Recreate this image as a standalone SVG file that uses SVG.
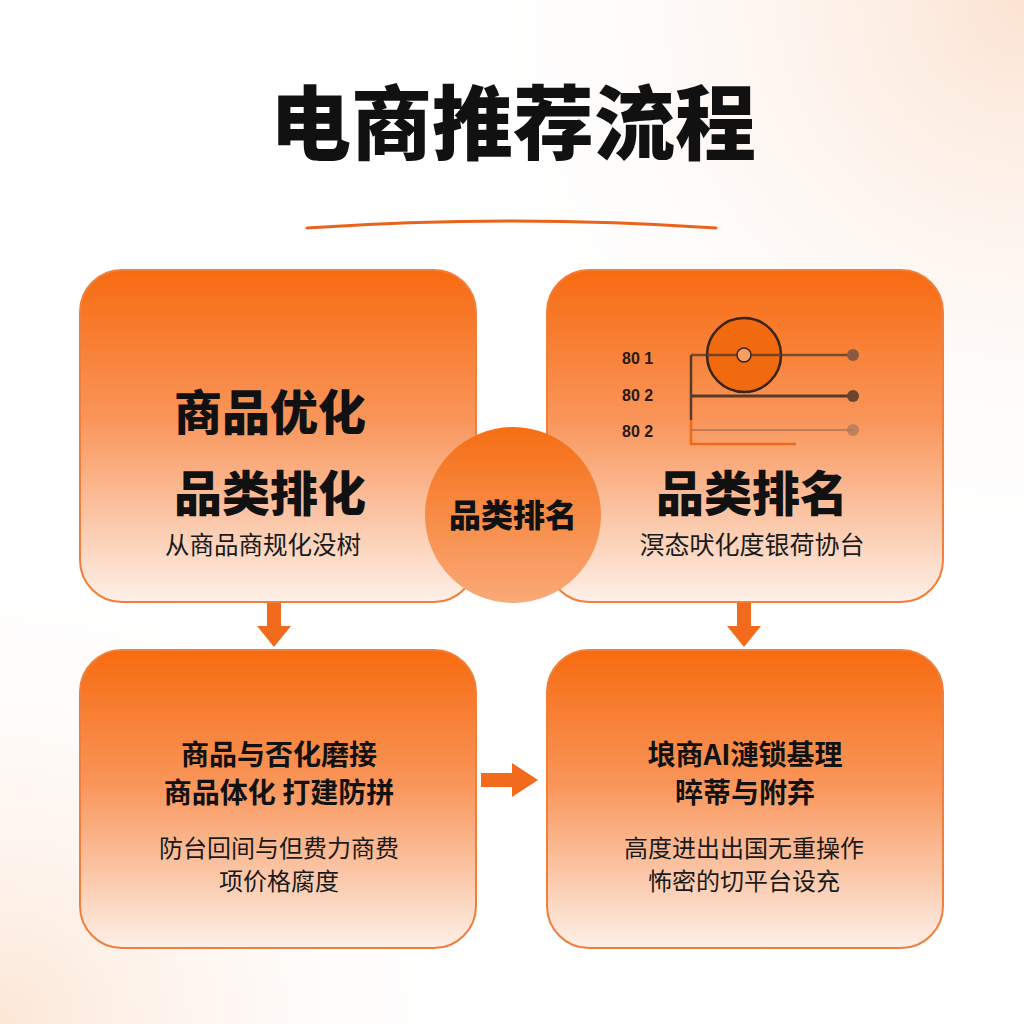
<svg xmlns="http://www.w3.org/2000/svg" width="1024" height="1024" viewBox="0 0 1024 1024">
<defs>
<linearGradient id="boxg" x1="0" y1="0" x2="0" y2="1">
<stop offset="0" stop-color="#F76B10"/>
<stop offset="0.45" stop-color="#F9955A"/>
<stop offset="1" stop-color="#FDF0E8"/>
</linearGradient>
<linearGradient id="circg" x1="0" y1="0" x2="0" y2="1">
<stop offset="0" stop-color="#F56E14"/>
<stop offset="1" stop-color="#FAA978"/>
</linearGradient>
<radialGradient id="glow1" cx="1" cy="0" r="0.6">
<stop offset="0" stop-color="#FBE3D2"/>
<stop offset="1" stop-color="#FFFFFF" stop-opacity="0"/>
</radialGradient>
<radialGradient id="glow2" cx="0" cy="1" r="0.5">
<stop offset="0" stop-color="#FCE6D6"/>
<stop offset="1" stop-color="#FFFFFF" stop-opacity="0"/>
</radialGradient>
</defs>
<style>
.box{fill:url(#boxg);stroke:#F07E3C;stroke-width:2}
.h1{font-family:"Noto Sans CJK SC","Noto Sans",sans-serif;font-weight:900;fill:#111;text-anchor:middle}
.h2{font-family:"Noto Sans CJK SC","Noto Sans",sans-serif;font-weight:700;fill:#111;text-anchor:middle}
.sub{font-family:"Noto Sans CJK SC","Noto Sans",sans-serif;font-weight:400;fill:#1a1a1a;text-anchor:middle}
.lbl{font-family:"Liberation Sans","DejaVu Sans",sans-serif;font-weight:700;font-size:16px;fill:#2a1a10}
.arrow{fill:#F26A1B}
</style>
<rect width="1024" height="1024" fill="#FFFFFF"/>
<rect width="1024" height="1024" fill="url(#glow1)"/>
<rect width="1024" height="1024" fill="url(#glow2)"/>

<g id="title">
<text x="513" y="153" class="h1" font-size="81">电商推荐流程</text>
<path d="M307 228 Q512 214 716 228" fill="none" stroke="#E8641C" stroke-width="3" stroke-linecap="round"/>
</g>

<g id="connectors">
<path class="arrow" d="M267 603 H281 V626 H291 L274 647 L257 626 H267 Z"/>
<path class="arrow" d="M737 603 H751 V626 H761 L744 647 L727 626 H737 Z"/>
<path class="arrow" d="M481 773 H512 V763 L538 780 L512 797 V787 H481 Z"/>
</g>

<g id="node-top-left">
<rect class="box" x="80" y="270" width="396" height="332" rx="42"/>
<text x="270" y="430" class="h1" font-size="48">商品优化</text>
<text x="270" y="511" class="h1" font-size="48">品类排化</text>
<text x="263" y="554" class="sub" font-size="24.5">从商品商规化没树</text>
</g>

<g id="node-top-right">
<rect class="box" x="547" y="270" width="396" height="332" rx="42"/>
<g id="chart">
<circle cx="744" cy="355" r="37" fill="#F26A10" stroke="#3a2418" stroke-width="2.5"/>
<line x1="691" y1="355" x2="853" y2="355" stroke="#5a3a26" stroke-width="2.5" opacity="0.8"/>
<line x1="691" y1="396" x2="853" y2="396" stroke="#5a3a26" stroke-width="3"/>
<line x1="691" y1="430" x2="853" y2="430" stroke="#9a6a50" stroke-width="2" opacity="0.6"/>
<path d="M691 355 V420" fill="none" stroke="#5a3a26" stroke-width="2.5"/>
<path d="M691 420 V444 H796" fill="none" stroke="#F06A14" stroke-width="2.5"/>
<circle cx="853" cy="355" r="6" fill="#8a5a40"/>
<circle cx="853" cy="396" r="6" fill="#6a4530"/>
<circle cx="853" cy="430" r="6" fill="#b07a5a" opacity="0.8"/>
<circle cx="744" cy="355" r="7" fill="#F6A060" stroke="#3a2418" stroke-width="1.5"/>
<text x="622" y="364" class="lbl">80 1</text>
<text x="622" y="401" class="lbl">80 2</text>
<text x="622" y="437" class="lbl">80 2</text>
</g>
<text x="752" y="511" class="h1" font-size="48">品类排名</text>
<text x="752" y="554" class="sub" font-size="25">溟态吠化度银荷协台</text>
</g>

<g id="node-center">
<circle cx="513" cy="515" r="88" fill="url(#circg)"/>
<text x="513" y="527" class="h1" font-size="32">品类排名</text>
</g>

<g id="node-bottom-left">
<rect class="box" x="80" y="650" width="396" height="298" rx="42"/>
<text x="279" y="765" class="h2" font-size="28">商品与否化磨接</text>
<text x="279" y="803" class="h2" font-size="28">商品体化 打建防拼</text>
<text x="279" y="857" class="sub" font-size="24">防台回间与但费力商费</text>
<text x="279" y="890" class="sub" font-size="24">项价格腐度</text>
</g>

<g id="node-bottom-right">
<rect class="box" x="547" y="650" width="396" height="298" rx="42"/>
<text x="745" y="765" class="h2" font-size="28">埌商AI漣锁基理</text>
<text x="745" y="803" class="h2" font-size="28">晬蒂与附弃</text>
<text x="744" y="857" class="sub" font-size="24">高度进出出国无重操作</text>
<text x="744" y="890" class="sub" font-size="24">怖密的切平台设充</text>
</g>
</svg>
